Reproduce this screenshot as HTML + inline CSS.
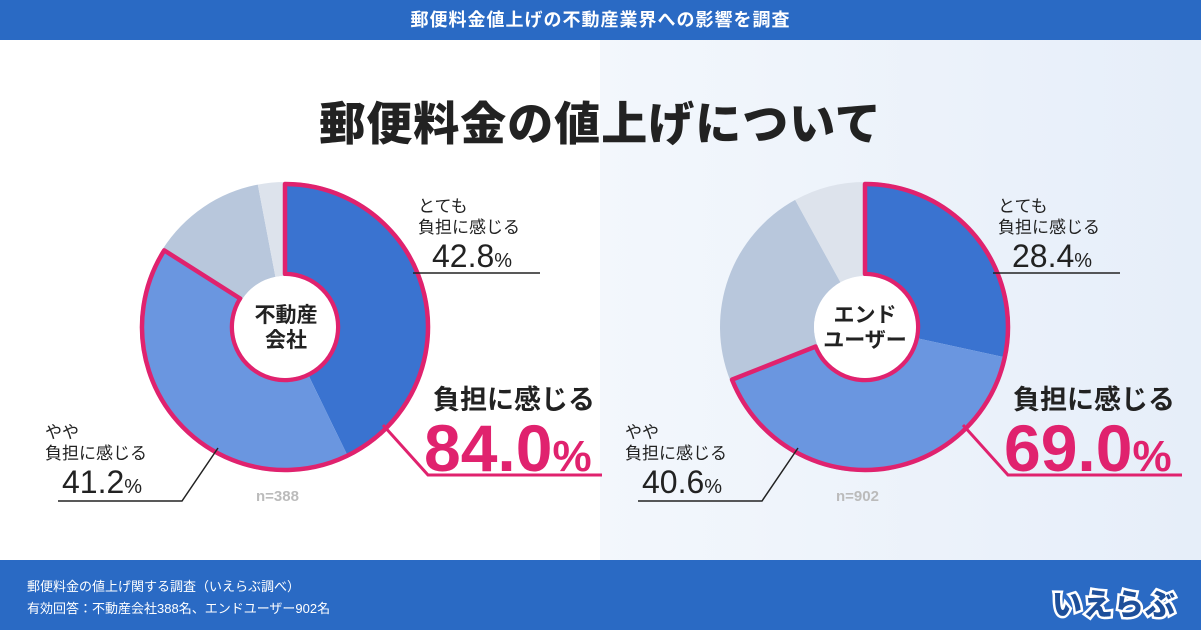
<!DOCTYPE html>
<html><head><meta charset="utf-8"><style>
body{margin:0;width:1201px;height:630px;overflow:hidden;font-family:"Liberation Sans","Noto Sans CJK JP",sans-serif;position:relative;background:#fff}
.t{position:absolute;white-space:nowrap;color:#222}
</style></head><body>
<div style="position:absolute;left:600px;top:40px;width:601px;height:520px;background:linear-gradient(90deg,#f3f7fc,#e6eef9)"></div>
<div style="position:absolute;left:0;top:0;width:1201px;height:40px;background:#2a6ac4;color:#fff;font-weight:bold;font-size:18px;text-align:center;line-height:40px;letter-spacing:1px">郵便料金値上げの不動産業界への影響を調査</div>
<div class="t" style="left:0;width:1201px;text-align:center;top:88px;font-size:46px;font-weight:900;color:#222;letter-spacing:1px">郵便料金の値上げについて</div>
<svg id="s" width="1201" height="630" style="position:absolute;left:0;top:0"></svg>
<div class="t" style="left:418px;top:196px;font-size:17px;line-height:21px">とても<br>負担に感じる</div>
<div class="t" style="left:432px;top:238px;font-size:32px">42.8<span style="font-size:20px">%</span></div>
<div class="t" style="left:433px;top:378px;font-size:27px;font-weight:bold">負担に感じる</div>
<div class="t" style="left:424px;top:410px;font-size:66px;font-weight:bold;color:#e0226e;letter-spacing:0px">84.0<span style="font-size:44px">%</span></div>
<div class="t" style="left:45px;top:422px;font-size:17px;line-height:21px">やや<br>負担に感じる</div>
<div class="t" style="left:62px;top:464px;font-size:32px">41.2<span style="font-size:20px">%</span></div>
<div class="t" style="left:256px;top:488px;font-size:15px;font-weight:bold;color:#bbb">n=388</div>
<div class="t" style="left:240px;top:303px;width:92px;text-align:center;font-size:21px;font-weight:bold;line-height:25px">不動産<br>会社</div>

<div class="t" style="left:998px;top:196px;font-size:17px;line-height:21px">とても<br>負担に感じる</div>
<div class="t" style="left:1012px;top:238px;font-size:32px">28.4<span style="font-size:20px">%</span></div>
<div class="t" style="left:1013px;top:378px;font-size:27px;font-weight:bold">負担に感じる</div>
<div class="t" style="left:1004px;top:410px;font-size:66px;font-weight:bold;color:#e0226e;letter-spacing:0px">69.0<span style="font-size:44px">%</span></div>
<div class="t" style="left:625px;top:422px;font-size:17px;line-height:21px">やや<br>負担に感じる</div>
<div class="t" style="left:642px;top:464px;font-size:32px">40.6<span style="font-size:20px">%</span></div>
<div class="t" style="left:836px;top:488px;font-size:15px;font-weight:bold;color:#bbb">n=902</div>
<div class="t" style="left:815px;top:303px;width:100px;text-align:center;font-size:21px;font-weight:bold;line-height:25px">エンド<br>ユーザー</div>

<div style="position:absolute;left:0;top:560px;width:1201px;height:70px;background:#2a6ac4"></div>
<div class="t" style="left:27px;top:576px;font-size:13px;color:#fff;line-height:22px">郵便料金の値上げ関する調査（いえらぶ調べ）<br>有効回答：不動産会社388名、エンドユーザー902名</div>
<div class="t" style="left:1052px;top:580px;font-size:30px;font-weight:900;color:#1d4f9a;-webkit-text-stroke:5px #fff;paint-order:stroke fill;letter-spacing:1px">いえらぶ</div>
<script>
const s=document.getElementById('s');let h='';
function pt(cx,cy,r,f){const a=f*2*Math.PI-Math.PI/2;return [cx+r*Math.cos(a),cy+r*Math.sin(a)];}
function sec(cx,cy,R,r,f0,f1){const [a,b]=pt(cx,cy,R,f0),[c,d]=pt(cx,cy,R,f1),[e,f]=pt(cx,cy,r,f1),[g,k]=pt(cx,cy,r,f0);const L=(f1-f0)>0.5?1:0;return `M${a},${b}A${R},${R} 0 ${L} 1 ${c},${d}L${e},${f}A${r},${r} 0 ${L} 0 ${g},${k}Z`;}
function donut(cx,cy,vals){const cols=['#3a73d0','#6a96e0','#b8c7dc','#dde3ec'];let f=0;vals.forEach((v,i)=>{h+=`<path d="${sec(cx,cy,145,51,f,f+v)}" fill="${cols[i]}"/>`;f+=v;});
h+=`<path d="${sec(cx,cy,143,53,0,vals[0]+vals[1])}" fill="none" stroke="#e0226e" stroke-width="4.5" stroke-linejoin="round"/>`;
h+=`<circle cx="${cx}" cy="${cy}" r="51" fill="#fff"/>`;}
donut(285,327,[.428,.412,.13,.03]);
donut(865,327,[.284,.406,.23,.08]);
function L(dx){h+=`<polyline points="${413+dx},273 ${540+dx},273" stroke="#222" stroke-width="1.5" fill="none"/>`;
h+=`<polyline points="${383+dx},425 ${428+dx},475 ${602+dx},475" stroke="#e0226e" stroke-width="3" fill="none"/>`;
h+=`<polyline points="${218+dx},448 ${182+dx},501 ${58+dx},501" stroke="#222" stroke-width="1.5" fill="none"/>`;}
L(0);L(580);
s.innerHTML=h;
</script>
</body></html>
